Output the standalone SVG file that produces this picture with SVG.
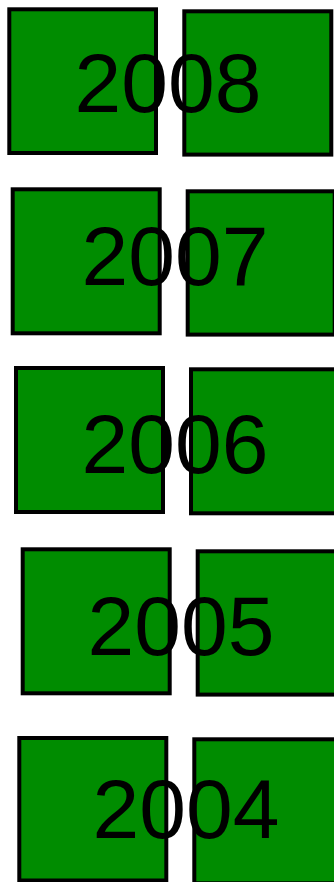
<svg xmlns="http://www.w3.org/2000/svg" width="334" height="882" viewBox="0 0 334 882">
<style>
.box{fill:#008c00;stroke:#000;stroke-width:4}
.yr{font-family:"Liberation Sans",Arial,sans-serif;font-size:84px;fill:#000;text-anchor:middle}
</style>
<rect width="334" height="882" fill="#fff"/>
<g id="row2008">
<rect class="box" x="9.3" y="9.3" width="146.7" height="143.7"/>
<rect class="box" x="184.3" y="11.3" width="147" height="143.3"/>
<text class="yr" x="168" y="111.5">2008</text>
</g>
<g id="row2007">
<rect class="box" x="12.7" y="189.3" width="147" height="144"/>
<rect class="box" x="187.7" y="191.3" width="147" height="143.3"/>
<text class="yr" x="175" y="285">2007</text>
</g>
<g id="row2006">
<rect class="box" x="16" y="368" width="147" height="144"/>
<rect class="box" x="191" y="369.3" width="147" height="144"/>
<text class="yr" x="175" y="472.5">2006</text>
</g>
<g id="row2005">
<rect class="box" x="22.7" y="549.3" width="147" height="144"/>
<rect class="box" x="197.7" y="551.3" width="147" height="143.3"/>
<text class="yr" x="181" y="654.5">2005</text>
</g>
<g id="row2004">
<rect class="box" x="19.3" y="738" width="147" height="142.5"/>
<rect class="box" x="194.3" y="739.3" width="147" height="144"/>
<text class="yr" x="186" y="837.5">2004</text>
</g>
<g id="connectors"></g>
</svg>
